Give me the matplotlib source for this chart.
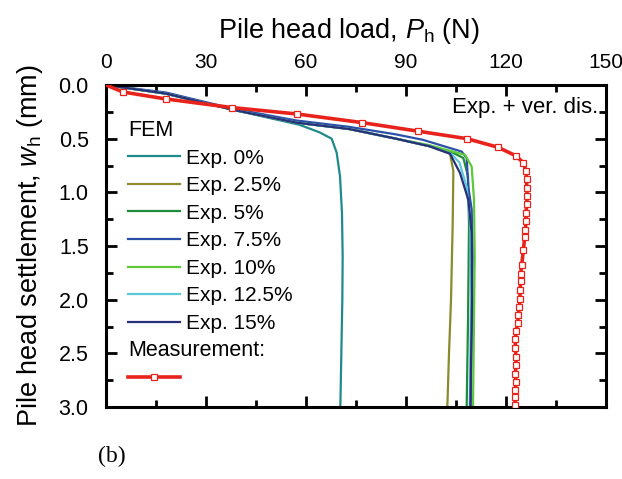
import matplotlib.pyplot as plt
from matplotlib.lines import Line2D
from matplotlib.ticker import MultipleLocator

plt.rcParams['font.family'] = 'Liberation Sans'
plt.rcParams['mathtext.fontset'] = 'custom'
plt.rcParams['mathtext.rm'] = 'Liberation Sans'
plt.rcParams['mathtext.it'] = 'Liberation Sans:italic'

# FEM curves: load P (N) vs settlement w (mm)
exp0_p = [0, 18, 38, 48, 58, 64, 67.7, 69.2, 70.2, 70.8, 71.0, 70.9, 70.6, 70.3]
exp0_w = [0, 0.08, 0.23, 0.30, 0.37, 0.44, 0.50, 0.63, 0.85, 1.2, 1.6, 2.0, 2.5, 3.0]

exp25_p = [0, 18, 38, 57, 73, 87, 97, 103.2, 104.2, 104.0, 103.5, 102.9, 102.4]
exp25_w = [0, 0.08, 0.23, 0.35, 0.41, 0.50, 0.57, 0.64, 0.80, 1.3, 2.0, 2.5, 3.0]

exp5_p = [0, 18, 38, 57, 73, 87, 97, 104, 107.2, 108.6, 108.9, 108.6, 108.2]
exp5_w = [0, 0.08, 0.23, 0.35, 0.41, 0.50, 0.57, 0.63, 0.68, 0.85, 1.3, 2.2, 3.0]

exp75_p = [0, 18, 38, 57, 73, 87, 95, 106.7, 108.2, 108.7, 109.7, 110.0, 109.4]
exp75_w = [0, 0.07, 0.22, 0.33, 0.39, 0.46, 0.51, 0.62, 0.68, 0.95, 1.16, 1.6, 3.0]

exp10_p = [0, 18, 38, 57, 73, 87, 97, 104, 107.7, 109.7, 110.4, 110.6, 110.1]
exp10_w = [0, 0.08, 0.23, 0.35, 0.41, 0.50, 0.56, 0.62, 0.65, 0.76, 1.07, 1.6, 3.0]

exp125_p = [0, 18, 38, 57, 73, 87, 97, 103.5, 106, 108.2, 109.3, 109.5, 109.1]
exp125_w = [0, 0.08, 0.23, 0.35, 0.41, 0.50, 0.57, 0.64, 0.72, 0.95, 1.3, 2.0, 3.0]

exp15_p = [0, 18, 38, 57, 73, 87, 97, 103.2, 106.2, 108.7, 109.7, 109.8, 109.3]
exp15_w = [0, 0.08, 0.23, 0.35, 0.41, 0.50, 0.57, 0.64, 0.82, 1.07, 1.38, 2.0, 3.0]

# measurement
meas_p = [0, 5.1, 18, 37.8, 57.3, 76.8, 93.6, 108.3, 117.6, 123.0,
          125.2, 126.0, 126.2, 126.2, 126.4, 126.2, 126.0, 126.0, 125.8, 125.6,
          125.2, 124.7, 124.4, 124.4, 124.2, 124.2, 124.0, 123.7, 123.5, 123.0,
          122.8, 122.8, 123.0, 123.0, 122.8, 123.0, 122.8, 122.8, 122.6]
meas_w = [0, 0.065, 0.13, 0.21, 0.27, 0.35, 0.43, 0.50, 0.58, 0.66,
          0.724, 0.80, 0.88, 0.96, 1.03, 1.11, 1.19, 1.27, 1.35, 1.42,
          1.54, 1.68, 1.76, 1.83, 1.91, 1.99, 2.07, 2.14, 2.22, 2.29,
          2.37, 2.45, 2.53, 2.61, 2.69, 2.77, 2.84, 2.91, 2.98]

fem = [
    (exp0_p, exp0_w, '#1f8a8c', 'Exp. 0%'),
    (exp25_p, exp25_w, '#8a8a2e', 'Exp. 2.5%'),
    (exp5_p, exp5_w, '#1e8c3a', 'Exp. 5%'),
    (exp75_p, exp75_w, '#2c4fa8', 'Exp. 7.5%'),
    (exp10_p, exp10_w, '#5cc83a', 'Exp. 10%'),
    (exp125_p, exp125_w, '#5cc8d8', 'Exp. 12.5%'),
    (exp15_p, exp15_w, '#2a2f7a', 'Exp. 15%'),
]

fig = plt.figure(figsize=(6.22, 4.79), dpi=100)
ax = fig.add_axes([0.1704, 0.1503, 0.8039, 0.6722])

handles = []
for p, w, c, lab in fem:
    h, = ax.plot(p, w, color=c, lw=1.6, label=lab)
    handles.append(h)

ax.plot(meas_p, meas_w, color='#e8231c', lw=2.6, zorder=5)
ax.plot(meas_p[1:], meas_w[1:], ls='none', marker='s', ms=5,
        mfc='white', mec='#e8231c', mew=0.9, zorder=6)
meas_handle = Line2D([0, 1, 2], [0, 0, 0], color='#e8231c', lw=2.6, marker='s', ms=5,
                     mfc='white', mec='#e8231c', mew=0.9, markevery=[1])

ax.set_xlim(0, 150)
ax.set_ylim(3.0, 0.0)
ax.xaxis.set_major_locator(MultipleLocator(30))
ax.xaxis.set_minor_locator(MultipleLocator(15))
ax.yaxis.set_major_locator(MultipleLocator(0.5))
ax.yaxis.set_minor_locator(MultipleLocator(0.25))
ax.yaxis.set_major_formatter(plt.FormatStrFormatter('%.1f'))

ax.xaxis.tick_top()
ax.xaxis.set_label_position('top')
ax.tick_params(which='both', direction='in', top=True, bottom=True,
               left=True, right=True, width=2, labelsize=15)
ax.tick_params(which='major', length=8)
ax.tick_params(which='minor', length=5)
ax.tick_params(axis='x', which='major', pad=9.5)
ax.tick_params(axis='y', which='major', pad=12.5, labelsize=15.5)
for s in ax.spines.values():
    s.set_linewidth(2.2)

ax.set_xlabel(r'Pile head load, $\mathit{P}_\mathregular{h}$ (N)', fontsize=19.5)
ax.set_ylabel(r'Pile head settlement, $\mathit{w}_\mathregular{h}$ (mm)', fontsize=19.5)
ax.xaxis.set_label_coords(0.485, 1.146)
ax.yaxis.set_label_coords(-0.122, 0.5)

ax.text(0.985, 0.93, 'Exp. + ver. dis.', transform=ax.transAxes,
        ha='right', va='center', fontsize=16)

# blank rows hold the "FEM" and "Measurement:" headings
blank = Line2D([], [], lw=0)
leg = ax.legend([blank] + handles + [blank, meas_handle],
                [' '] + [h.get_label() for h in handles] + [' ', ' '],
                loc='upper left', bbox_to_anchor=(0.044, 0.888), frameon=False,
                fontsize=15, handlelength=2.5, handletextpad=0.3,
                labelspacing=0.41, borderaxespad=0, borderpad=0)

fig.canvas.draw()
inv = ax.transAxes.inverted()
x0 = inv.transform((leg.get_window_extent().x0, 0))[0]
texts = leg.get_texts()
for idx, s in [(0, 'FEM'), (8, 'Measurement:')]:
    bb = texts[idx].get_window_extent()
    yc = inv.transform((0, (bb.y0 + bb.y1) / 2))[1]
    ax.text(x0, yc, s, transform=ax.transAxes, ha='left', va='center', fontsize=15.5)

fig.text(0.158, 0.048, '(b)', family='Liberation Serif', fontsize=17, ha='left', va='center')

fig.savefig('out.png', dpi=100)
